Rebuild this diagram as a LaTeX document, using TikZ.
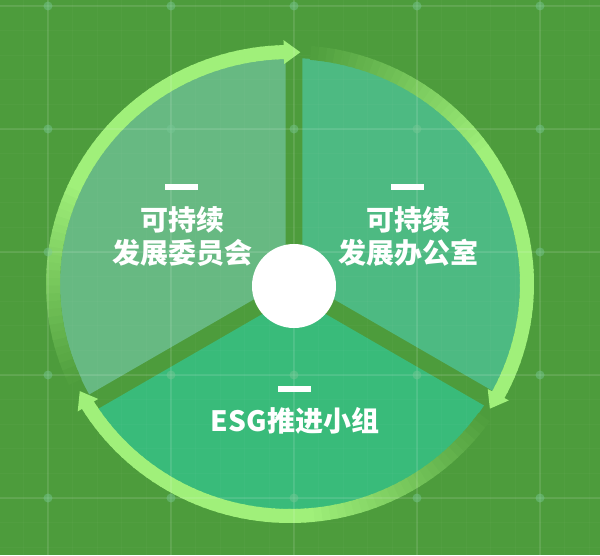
\documentclass[tikz,border=0pt]{standalone}
\usepackage{fontspec}
\newfontfamily\cjk{Noto Sans CJK SC}
\definecolor{bggreen}{RGB}{77,156,60}
\definecolor{ringgreen}{RGB}{160,240,122}
\definecolor{leftsec}{RGB}{106,188,136}
\definecolor{rightsec}{RGB}{78,189,136}
\definecolor{bottomsec}{RGB}{56,190,128}
\definecolor{dotgreen}{RGB}{120,200,150}
\begin{document}
\begin{tikzpicture}[x=1pt,y=1pt]
	\tikzstyle{gridline}=[white,opacity=0.1,line width=1.4pt]
	\tikzstyle{subline}=[white,opacity=0.025,line width=1pt]
	\tikzstyle{ringseg}=[line width=14pt]
	\tikzstyle{unittext}=[text=white,font=\cjk\bfseries\fontsize{28}{33}\selectfont,align=center,inner sep=0pt]
	\tikzstyle{dashbar}=[fill=white,minimum width=33pt,minimum height=6pt,inner sep=0pt]

	\fill[bggreen] (-294,-271) rectangle (306,284);
	\useasboundingbox (-294,-271) rectangle (306,284);
	\coordinate (p) at (-4,0);
	\coordinate (d) at (0,-2);

	\foreach \bis/\col in {150/leftsec,30/rightsec,270/bottomsec}{
		\begin{scope}
			\clip (d) ++(\bis:9.8) coordinate (k) -- +(\bis+60:500) -- +(\bis:1000) -- +(\bis-60:500) -- cycle;
			\fill[\col,opacity=0.92] (p) ellipse[x radius=230,y radius=226];
		\end{scope}
	}

	\foreach \i in {-12,...,12}
		\draw[subline] (\i*24.6,-271) -- (\i*24.6,284);
	\foreach \j in {-12,...,10}
		\draw[subline] (-294,32+\j*24.6) -- (306,32+\j*24.6);

	\foreach \head in {90,-30,-150}{
		\foreach \i in {0,...,59}{
			\pgfmathsetmacro\sa{\head+115-\i*113.5/60}
			\pgfmathsetmacro\ea{\sa-113.5/60-0.5}
			\pgfmathtruncatemacro\pct{min(100,4+\i*96/26)}
			\draw[ringseg,ringgreen!\pct!bggreen] (p) ++(\sa:237 and 232) arc[start angle=\sa,end angle=\ea,x radius=237,y radius=232];
		}
		\fill[ringgreen] (p) +(\head+1.5:249 and 244) -- +(\head-2.5:237 and 232) -- +(\head+1.5:225 and 220) -- cycle;
	}

	\foreach \gx in {-246,-123,0,123,246}
		\draw[gridline] (\gx,-271) -- (\gx,284);
	\foreach \gy in {278,155,32,-91,-214}
		\draw[gridline] (-294,\gy) -- (306,\gy);
	\foreach \gx in {-246,-123,0,123,246}
		\foreach \gy in {278,155,32,-91,-214}
			\fill[dotgreen,opacity=0.45] (\gx,\gy) circle[radius=4.5];

	\node[circle,fill=white,minimum size=84pt,inner sep=0pt] (hub) at (d) {};

	\node[dashbar] (leftbar) at (-112,97.5) {};
	\node[unittext] (committee) at (-111,48) {可持续\\发展委员会};
	\node[dashbar] (rightbar) at (113,97.5) {};
	\node[unittext] (office) at (115,48) {可持续\\发展办公室};
	\node[dashbar] (bottombar) at (0.5,-105) {};
	\node[unittext] (group) at (1,-137) {ESG推进小组};
\end{tikzpicture}
\end{document}
